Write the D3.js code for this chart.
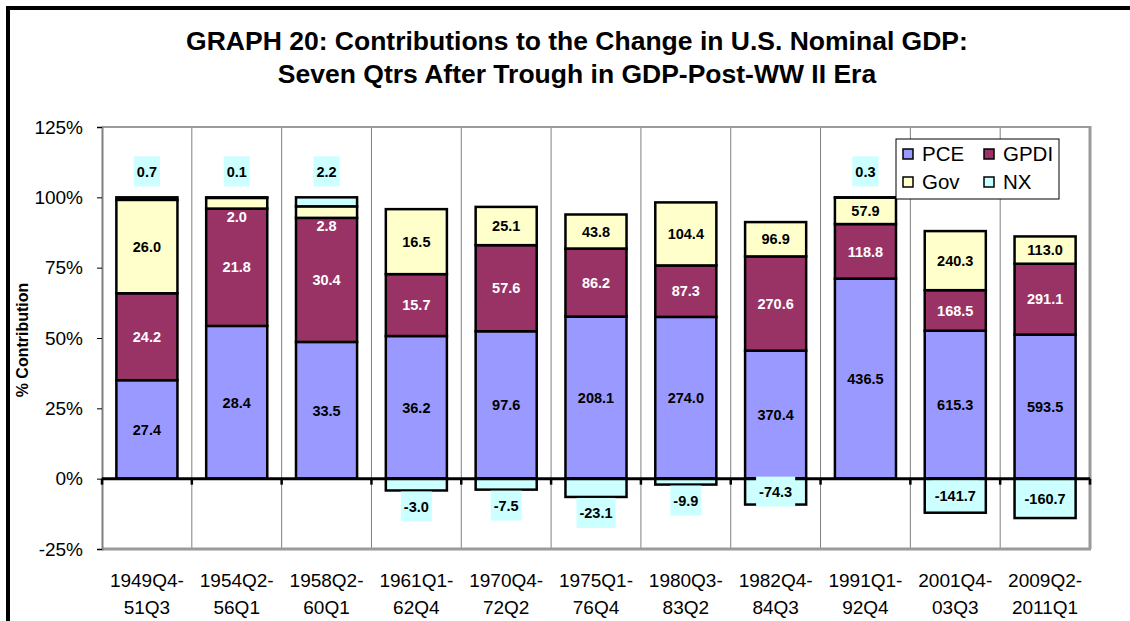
<!DOCTYPE html>
<html>
<head>
<meta charset="utf-8">
<script src="https://cdn.jsdelivr.net/npm/d3@7"></script>
<style>
  html, body { margin: 0; padding: 0; background: #fff; }
  svg { display: block; font-family: Arial, "Liberation Sans", sans-serif; }
</style>
</head>
<body>
<svg id="chart" width="1130" height="621"></svg>
<script>
// ---------- data ----------
const categories = [
  ["1949Q4-", "51Q3"], ["1954Q2-", "56Q1"], ["1958Q2-", "60Q1"], ["1961Q1-", "62Q4"],
  ["1970Q4-", "72Q2"], ["1975Q1-", "76Q4"], ["1980Q3-", "83Q2"], ["1982Q4-", "84Q3"],
  ["1991Q1-", "92Q4"], ["2001Q4-", "03Q3"], ["2009Q2-", "2011Q1"]
];
const seriesNames = ["PCE", "GPDI", "Gov", "NX"];
// bar heights: % contribution
const pcePct  = [35.0, 54.3, 48.6, 50.7, 52.4, 57.6, 57.5, 45.5, 71.1, 52.6, 51.2];
const gpdiPct = [30.9, 41.7, 44.1, 22.0, 30.6, 24.2, 18.3, 33.5, 19.4, 14.4, 25.2];
const govPct  = [33.2,  3.8,  4.1, 23.1, 13.6, 12.1, 22.4, 12.2,  9.4, 21.0,  9.7];
const nxPct   = [ 0.9,  0.2,  3.2, -4.2, -3.9, -6.5, -2.1, -9.2,  0.1, -12.1, -14.0];
// data labels (billions of dollars)
const pceLbl  = ["27.4", "28.4", "33.5", "36.2", "97.6", "208.1", "274.0", "370.4", "436.5", "615.3", "593.5"];
const gpdiLbl = ["24.2", "21.8", "30.4", "15.7", "57.6", "86.2", "87.3", "270.6", "118.8", "168.5", "291.1"];
const govLbl  = ["26.0", "2.0", "2.8", "16.5", "25.1", "43.8", "104.4", "96.9", "57.9", "240.3", "113.0"];
const nxLbl   = ["0.7", "0.1", "2.2", "-3.0", "-7.5", "-23.1", "-9.9", "-74.3", "0.3", "-141.7", "-160.7"];
const yTicks = [-25, 0, 25, 50, 75, 100, 125];
const titleLines = ["GRAPH 20: Contributions to the Change in U.S. Nominal GDP:",
                    "Seven Qtrs After Trough in GDP-Post-WW II Era"];
const yAxisTitle = "% Contribution";

const colors = { PCE: "#9999FF", GPDI: "#993366", Gov: "#FFFFCC", NX: "#CCFFFF" };
const labelColors = { PCE: "#000", GPDI: "#fff", Gov: "#000", NX: "#000" };

// ---------- layout ----------
const svg = d3.select("#chart");
const plot = { left: 102, right: 1090, top: 127, bottom: 549 };

const x = d3.scaleBand().domain(d3.range(categories.length)).range([plot.left, plot.right]).padding(0);
const y = d3.scaleLinear().domain([-25, 125]).range([plot.bottom, plot.top]);
const barFrac = 0.68;
const barX = i => x(i) + x.bandwidth() * (1 - barFrac) / 2;
const barW = x.bandwidth() * barFrac;

// outer frame
svg.append("rect").attr("x", 8).attr("y", 8).attr("width", 1140).attr("height", 640)
  .attr("fill", "none").attr("stroke", "#000").attr("stroke-width", 4);

// title
svg.append("g").selectAll("text").data(titleLines).join("text")
  .attr("x", 577).attr("y", (d, i) => 50 + i * 33)
  .attr("text-anchor", "middle").attr("font-weight", "bold").attr("font-size", 26.5)
  .text(d => d);

// plot area background & vertical gridlines
svg.append("rect").attr("x", plot.left).attr("y", plot.top)
  .attr("width", plot.right - plot.left).attr("height", plot.bottom - plot.top)
  .attr("fill", "#fff");
svg.append("g").selectAll("line").data(d3.range(1, categories.length)).join("line")
  .attr("x1", i => x(i)).attr("x2", i => x(i))
  .attr("y1", plot.top).attr("y2", plot.bottom)
  .attr("stroke", "#808080").attr("stroke-width", 1);

// plot border (gray, heavier on right/bottom)
svg.append("line").attr("x1", plot.left).attr("x2", plot.right).attr("y1", plot.top).attr("y2", plot.top)
  .attr("stroke", "#9a9a9a").attr("stroke-width", 2);
svg.append("line").attr("x1", plot.left).attr("x2", plot.right + 1).attr("y1", plot.bottom).attr("y2", plot.bottom)
  .attr("stroke", "#9a9a9a").attr("stroke-width", 3);
svg.append("line").attr("x1", plot.right).attr("x2", plot.right).attr("y1", plot.top - 1).attr("y2", plot.bottom)
  .attr("stroke", "#9a9a9a").attr("stroke-width", 3);

// y axis
const yAxis = d3.axisLeft(y).tickValues(yTicks).tickSize(5).tickPadding(14).tickFormat(d => d + "%");
const gy = svg.append("g").attr("transform", `translate(${plot.left},0)`).call(yAxis);
gy.select(".domain").attr("stroke", "#808080").attr("stroke-width", 2);
gy.selectAll(".tick line").attr("stroke", "#000");
gy.selectAll(".tick text").attr("font-size", 19).attr("fill", "#000")
  .attr("font-family", "Arial, 'Liberation Sans', sans-serif");

svg.append("text").attr("transform", `translate(28,340) rotate(-90)`)
  .attr("text-anchor", "middle").attr("font-weight", "bold").attr("font-size", 16)
  .text(yAxisTitle);

// stacked bars
const rows = categories.map((c, i) => ({
  i,
  segs: [
    { key: "PCE", v: pcePct[i], lbl: pceLbl[i] },
    { key: "GPDI", v: gpdiPct[i], lbl: gpdiLbl[i] },
    { key: "Gov", v: govPct[i], lbl: govLbl[i] },
    { key: "NX", v: nxPct[i], lbl: nxLbl[i] }
  ]
}));
rows.forEach(r => {
  let pos = 0, neg = 0;
  r.segs.forEach(s => {
    if (s.v >= 0) { s.y0 = pos; s.y1 = pos + s.v; pos += s.v; }
    else { s.y0 = neg + s.v; s.y1 = neg; neg += s.v; }
  });
});

const gBars = svg.append("g");
rows.forEach(r => {
  gBars.selectAll(null).data(r.segs).join("rect")
    .attr("x", barX(r.i)).attr("width", barW)
    .attr("y", s => y(s.y1)).attr("height", s => y(s.y0) - y(s.y1))
    .attr("fill", s => colors[s.key]).attr("stroke", "#000").attr("stroke-width", 2.5);
});

// zero axis line with ticks
svg.append("line").attr("x1", plot.left).attr("x2", plot.right).attr("y1", y(0)).attr("y2", y(0))
  .attr("stroke", "#000").attr("stroke-width", 3);
svg.append("g").selectAll("line").data(d3.range(0, categories.length + 1)).join("line")
  .attr("x1", i => plot.left + i * x.step()).attr("x2", i => plot.left + i * x.step())
  .attr("y1", y(0)).attr("y2", y(0) + 6)
  .attr("stroke", "#000").attr("stroke-width", 2.5);

// labels
const gLbl = svg.append("g").attr("font-weight", "bold").attr("font-size", 14.5).attr("text-anchor", "middle");
rows.forEach(r => {
  const cx = barX(r.i) + barW / 2;
  r.segs.forEach(s => {
    const h = y(s.y0) - y(s.y1);
    if (s.key === "Gov" && h < 16) {
      // small Gov slice: label sits just below it, over the GPDI slice
      gLbl.append("text").attr("x", cx).attr("y", y(s.y0) + 8).attr("dy", "0.36em")
        .attr("fill", "#fff").text(s.lbl);
    } else if (s.key !== "NX") {
      gLbl.append("text").attr("x", cx).attr("y", (y(s.y0) + y(s.y1)) / 2).attr("dy", "0.36em")
        .attr("fill", labelColors[s.key]).text(s.lbl);
    } else {
      let cy;
      if (s.v >= 0) cy = y(s.y1) - 26;
      else if (h > 22) cy = (y(s.y0) + y(s.y1)) / 2;
      else cy = y(s.y0) + 16;
      const t = gLbl.append("text").attr("x", cx).attr("y", cy).attr("dy", "0.36em").text(s.lbl);
      const bb = t.node().getBBox();
      gLbl.insert("rect", () => t.node())
        .attr("x", bb.x - 3).attr("width", bb.width + 6)
        .attr("y", cy - 15).attr("height", 30)
        .attr("fill", colors.NX);
    }
  });
});

// category labels
const gx = svg.append("g").attr("font-size", 19).attr("text-anchor", "middle");
categories.forEach((c, i) => {
  gx.selectAll(null).data(c).join("text")
    .attr("x", x(i) + x.bandwidth() / 2).attr("y", (d, k) => 587 + k * 27)
    .text(d => d);
});

// legend
const lg = svg.append("g").attr("transform", "translate(896,139)");
lg.append("rect").attr("width", 163).attr("height", 60).attr("fill", "#fff")
  .attr("stroke", "#000").attr("stroke-width", 1);
const legendPos = [[7, 15], [88, 15], [7, 43], [88, 43]];
seriesNames.forEach((k, j) => {
  const [lx, ly] = legendPos[j];
  lg.append("rect").attr("x", lx).attr("y", ly - 5).attr("width", 10).attr("height", 10)
    .attr("fill", colors[k]).attr("stroke", "#000").attr("stroke-width", 1.5);
  lg.append("text").attr("x", lx + 19).attr("y", ly).attr("dy", "0.36em")
    .attr("font-size", 20.5).text(k);
});
</script>
</body>
</html>
